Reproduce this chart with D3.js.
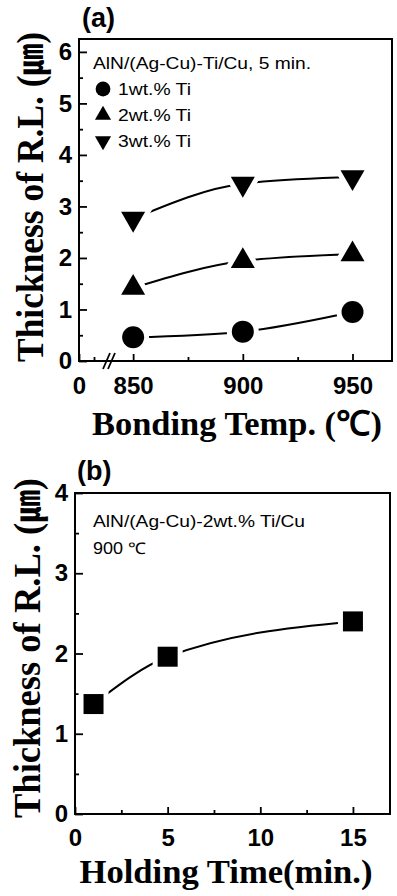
<!DOCTYPE html>
<html>
<head>
<meta charset="utf-8">
<script src="https://cdn.jsdelivr.net/npm/d3@7"></script>
<style>
body { margin: 0; background: #fff; }
svg { display: block; }
</style>
</head>
<body>
<svg id="fig" width="397" height="896"></svg>
<script>
// panel (a): thickness vs bonding temperature
const temps = [850, 900, 950];
const ti1 = [0.46, 0.57, 0.95];
const ti2 = [1.42, 1.94, 2.07];
const ti3 = [2.76, 3.44, 3.57];
const seriesNames = ['1wt.% Ti', '2wt.% Ti', '3wt.% Ti'];
const tempTicks = [0, 850, 900, 950];
const tempMinor = [875, 925];
const thickTicksA = [0, 1, 2, 3, 4, 5, 6];

// panel (b): thickness vs holding time
const times = [1, 5, 15];
const thickB = [1.37, 1.96, 2.40];
const timeTicks = [0, 5, 10, 15];
const timeMinor = [2.5, 7.5, 12.5];
const thickTicksB = [0, 1, 2, 3, 4];

const svg = d3.select('#fig');
const sans = '"Liberation Sans", Arial, sans-serif';
const serif = '"Liberation Serif", "Times New Roman", serif';

function drawAxes(g, x, y, xTicks, xMinor, yTicks, yMinor, labelPad) {
  const xr = x.range();
  const x0 = xr[0], x1 = xr[xr.length - 1];
  const [yb, yt] = y.range();

  const ax = g.append('g').attr('transform', 'translate(0,' + yb + ')')
    .call(d3.axisBottom(x).tickValues(xTicks).tickFormat(d3.format('d'))
      .tickSizeInner(-7).tickSizeOuter(0).tickPadding(labelPad));
  const axm = g.append('g').attr('transform', 'translate(0,' + yb + ')')
    .call(d3.axisBottom(x).tickValues(xMinor).tickSizeInner(-4).tickSizeOuter(0).tickFormat(''));
  const ay = g.append('g').attr('transform', 'translate(' + x0 + ',0)')
    .call(d3.axisLeft(y).tickValues(yTicks).tickFormat(d3.format('d'))
      .tickSizeInner(-8).tickSizeOuter(0).tickPadding(7));
  const aym = g.append('g').attr('transform', 'translate(' + x0 + ',0)')
    .call(d3.axisLeft(y).tickValues(yMinor).tickSizeInner(-4).tickSizeOuter(0).tickFormat(''));

  [ax, axm, ay, aym].forEach(a => {
    a.select('.domain').remove();
    a.selectAll('line').attr('stroke', '#000').attr('stroke-width', 1.8);
    a.selectAll('text').attr('fill', '#000')
      .style('font-family', sans).style('font-weight', 'bold').style('font-size', '24px');
  });

  g.append('rect')
    .attr('x', x0).attr('y', yt)
    .attr('width', x1 - x0).attr('height', yb - yt)
    .attr('fill', 'none').attr('stroke', '#000').attr('stroke-width', 2);
}

function yTitle(g, tx, ty, len) {
  const t = g.append('text')
    .attr('transform', 'translate(' + tx + ',' + ty + ') rotate(-90)')
    .attr('text-anchor', 'middle')
    .attr('textLength', len).attr('lengthAdjust', 'spacingAndGlyphs')
    .style('font-family', serif).style('font-weight', 'bold').style('font-size', '38px');
  t.append('tspan').text('Thickness of R.L. (');
  t.append('tspan').style('font-family', '"Noto Sans CJK JP"').style('font-size', '34px').text('㎛');
  t.append('tspan').text(')');
}

function xTitle(g, cx, by, len, label) {
  g.append('text')
    .attr('x', cx).attr('y', by)
    .attr('text-anchor', 'middle')
    .attr('textLength', len).attr('lengthAdjust', 'spacingAndGlyphs')
    .style('font-family', serif).style('font-weight', 'bold').style('font-size', '34px')
    .text(label);
}

function note(g, x, y, len, label) {
  const t = g.append('text').attr('x', x).attr('y', y)
    .style('font-family', sans).style('font-size', '16px').text(label);
  if (len) t.attr('textLength', len).attr('lengthAdjust', 'spacingAndGlyphs');
  return t;
}

function marker(sel, shape, size) {
  const path = d3.symbol(shape.type, size)();
  return sel.append('path').attr('d', path)
    .attr('fill', '#000').attr('stroke', '#fff').attr('stroke-width', 10)
    .style('paint-order', 'stroke');
}

const shapes = [
  { type: d3.symbolCircle, rot: 0, size: 380 },
  { type: d3.symbolTriangle, rot: 0, size: 250 },
  { type: d3.symbolTriangle, rot: 180, size: 250 }
];

// ---------- panel (a) ----------
const gA = svg.append('g');
const breakAt = 839;
const xA = d3.scaleLinear().domain([0, breakAt, 968]).range([79, 109, 392]);
const yA = d3.scaleLinear().domain([0, 6.25]).range([361, 39]);

drawAxes(gA, xA, yA, tempTicks, [breakAt / 2].concat(tempMinor),
  thickTicksA, d3.range(0.5, 6, 1), 16);

// axis break marks
[-2.5, 2.5].forEach(dx => {
  gA.append('line')
    .attr('x1', xA(breakAt) + dx - 3.5).attr('y1', yA(0) + 8)
    .attr('x2', xA(breakAt) + dx + 3.5).attr('y2', yA(0) - 8)
    .attr('stroke', '#000').attr('stroke-width', 1.8);
});

const lineA = d3.line().x(d => xA(d[0])).y(d => yA(d[1])).curve(d3.curveMonotoneX);
const seriesA = [ti1, ti2, ti3];

seriesA.forEach((vals, i) => {
  const pts = temps.map((t, j) => [t, vals[j]]);
  gA.append('path').attr('d', lineA(pts))
    .attr('fill', 'none').attr('stroke', '#000').attr('stroke-width', 2);
});
seriesA.forEach((vals, i) => {
  temps.forEach((t, j) => {
    marker(gA, shapes[i], shapes[i].size)
      .attr('transform', 'translate(' + xA(t) + ',' + yA(vals[j]) + ') rotate(' + shapes[i].rot + ')');
  });
});

// legend (a)
note(gA, 93, 69, 218, 'AlN/(Ag-Cu)-Ti/Cu, 5 min.');
const legY = [89, 115, 141];
seriesNames.forEach((name, i) => {
  gA.append('path').attr('d', d3.symbol(shapes[i].type, shapes[i].size * 0.45)())
    .attr('transform', 'translate(103,' + legY[i] + ') rotate(' + shapes[i].rot + ')')
    .attr('fill', '#000');
  note(gA, 118, legY[i] + 6, 73, name);
});

gA.append('text').attr('x', 82).attr('y', 27)
  .style('font-family', sans).style('font-weight', 'bold').style('font-size', '27px')
  .text('(a)');

yTitle(gA, 43, 197, 330);
xTitle(gA, 237, 435, 290, 'Bonding Temp. (℃)');

// ---------- panel (b) ----------
const gB = svg.append('g');
const xB = d3.scaleLinear().domain([0, 17]).range([75, 390]);
const yB = d3.scaleLinear().domain([0, 4]).range([814, 493]);

drawAxes(gB, xB, yB, timeTicks, timeMinor, thickTicksB, d3.range(0.5, 4, 1), 15);

const lineB = d3.line().x(d => xB(d[0])).y(d => yB(d[1])).curve(d3.curveMonotoneX);
const ptsB = times.map((t, j) => [t, thickB[j]]);
gB.append('path').attr('d', lineB(ptsB))
  .attr('fill', 'none').attr('stroke', '#000').attr('stroke-width', 2);
ptsB.forEach(p => {
  marker(gB, { type: d3.symbolSquare }, 400)
    .attr('transform', 'translate(' + xB(p[0]) + ',' + yB(p[1]) + ')');
});

note(gB, 93, 527, 212, 'AlN/(Ag-Cu)-2wt.% Ti/Cu');
note(gB, 93, 554, 53, '900 ℃');

gB.append('text').attr('x', 77).attr('y', 480)
  .style('font-family', sans).style('font-weight', 'bold').style('font-size', '27px')
  .text('(b)');

yTitle(gB, 40, 648, 340);
xTitle(gB, 226, 883, 293, 'Holding Time(min.)');
</script>
</body>
</html>
